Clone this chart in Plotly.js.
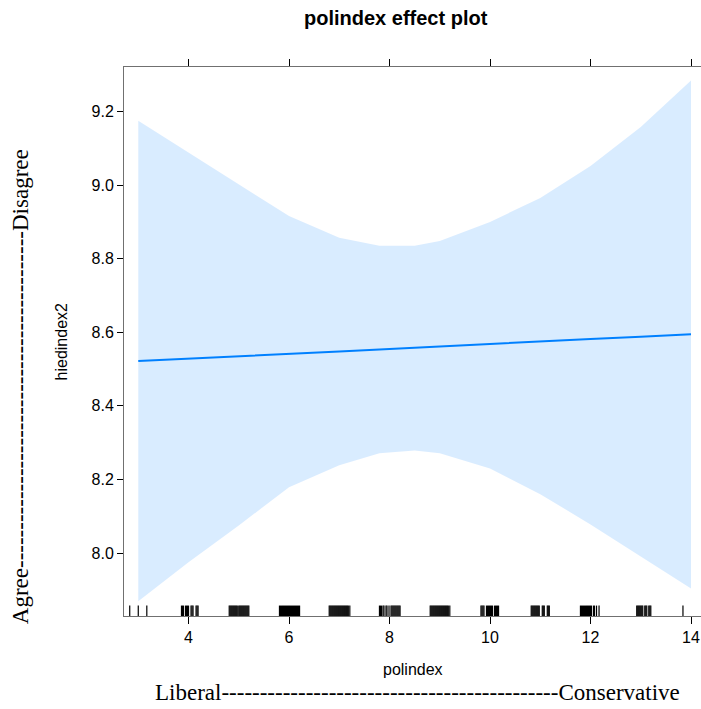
<!DOCTYPE html>
<html>
<head>
<meta charset="utf-8">
<script src="https://cdn.plot.ly/plotly-3.0.1.min.js"></script>
<style>html,body{margin:0;padding:0;background:#fff;}#chart{width:701px;height:709px;}</style>
</head>
<body>
<div id="chart"></div>
<script>
// ---- data ----
const effectX = [3, 4, 5, 6, 7, 7.8, 8.5, 9, 10, 11, 12, 13, 14];
const fitY    = [8.522, 8.529, 8.535, 8.542, 8.548, 8.553, 8.558, 8.561, 8.568, 8.575, 8.582, 8.588, 8.595];
const upperY  = [9.175, 9.088, 9.001, 8.916, 8.857, 8.835, 8.835, 8.848, 8.900, 8.965, 9.052, 9.158, 9.284];
const lowerY  = [7.869, 7.975, 8.075, 8.179, 8.239, 8.271, 8.279, 8.271, 8.230, 8.160, 8.078, 7.991, 7.904];

const rugValues = [
  2.83, 3.0, 3.17,
  3.86, 3.88, 3.90, 3.94, 3.96, 3.98, 4.00, 4.05, 4.07, 4.09, 4.15, 4.17, 4.19,
  4.81, 4.83, 4.85, 4.87, 4.89, 4.91, 4.93, 4.95, 4.97, 5.00, 5.02, 5.04, 5.06, 5.08, 5.10, 5.12, 5.14, 5.16, 5.18, 5.20,
  5.81, 5.83, 5.85, 5.87, 5.89, 5.91, 5.93, 5.95, 5.97, 5.99, 6.01, 6.03, 6.05, 6.07, 6.09, 6.11, 6.13, 6.15, 6.17, 6.19, 6.21,
  6.80, 6.82, 6.84, 6.86, 6.88, 6.90, 6.92, 6.94, 6.96, 6.98, 7.00, 7.02, 7.04, 7.06, 7.08, 7.10, 7.12, 7.14, 7.16, 7.18, 7.21,
  7.80, 7.82, 7.84, 7.87, 7.89, 7.93, 7.95, 7.99, 8.03, 8.05, 8.07, 8.09, 8.11, 8.13, 8.15, 8.17, 8.19, 8.21,
  8.81, 8.83, 8.85, 8.87, 8.89, 8.91, 8.93, 8.95, 8.97, 8.99, 9.01, 9.03, 9.05, 9.07, 9.09, 9.11, 9.13, 9.15, 9.17, 9.20,
  9.82, 9.84, 9.86, 9.88, 9.93, 9.95, 9.97, 9.99, 10.01, 10.03, 10.05, 10.09, 10.11, 10.13, 10.15, 10.17,
  10.82, 10.84, 10.86, 10.88, 10.90, 10.92, 10.94, 10.96, 10.98, 11.04, 11.06, 11.08, 11.14, 11.16, 11.18,
  11.80, 11.82, 11.84, 11.86, 11.88, 11.90, 11.92, 11.94, 11.96, 11.98, 12.00, 12.02, 12.06, 12.08, 12.12, 12.17,
  12.92, 12.94, 12.96, 12.98, 13.00, 13.02, 13.04, 13.08, 13.10, 13.12, 13.16, 13.18, 13.20,
  13.84
];

const xTicks = [4, 6, 8, 10, 12, 14];
const yTicks = [8.0, 8.2, 8.4, 8.6, 8.8, 9.0, 9.2];

const titleText = 'polindex effect plot';
const xTitle = 'polindex';
const yTitle = 'hiedindex2';
const xSideLabel = 'Liberal' + '-'.repeat(44) + 'Conservative';
const ySideLabel = 'Agree' + '-'.repeat(44) + 'Disagree';

// ---- traces ----
const band = {
  x: effectX.concat(effectX.slice().reverse()),
  y: upperY.concat(lowerY.slice().reverse()),
  type: 'scatter', mode: 'lines', fill: 'toself',
  fillcolor: 'rgba(0,128,255,0.15)', line: {width: 0},
  hoverinfo: 'skip', showlegend: false
};
const fit = {
  x: effectX, y: fitY, type: 'scatter', mode: 'lines',
  line: {color: '#0080ff', width: 2}, showlegend: false
};
const rugX = [], rugY = [];
rugValues.forEach(v => { rugX.push(v, v, null); rugY.push(0, 0.019, null); });
const rug = {
  x: rugX, y: rugY, yaxis: 'y2', type: 'scatter', mode: 'lines',
  line: {color: '#000', width: 1.2}, showlegend: false, hoverinfo: 'skip'
};

const sans = 'Liberation Sans, Arial, sans-serif';
const serif = 'Liberation Serif, Times New Roman, serif';

const layout = {
  width: 701, height: 709,
  margin: {l: 124, r: 0, t: 67, b: 93, pad: 0},
  paper_bgcolor: '#fff', plot_bgcolor: '#fff',
  showlegend: false,
  xaxis: {
    range: [2.716, 14.199], tickvals: xTicks, ticktext: xTicks.map(String),
    ticks: 'outside', ticklen: 7, tickwidth: 1, tickcolor: '#000',
    showline: true, linecolor: '#707070', linewidth: 1, mirror: 'ticks',
    showgrid: false, zeroline: false,
    tickfont: {family: sans, size: 16, color: '#000'}
  },
  yaxis: {
    range: [7.829, 9.321], tickvals: yTicks, ticktext: yTicks.map(v => v.toFixed(1)),
    ticks: 'outside', ticklen: 6, tickwidth: 1, tickcolor: '#000',
    showline: true, linecolor: '#707070', linewidth: 1, mirror: false,
    showgrid: false, zeroline: false,
    tickfont: {family: sans, size: 16, color: '#000'}
  },
  yaxis2: {overlaying: 'y', range: [0, 1], visible: false, fixedrange: true},
  annotations: [
    {text: '<b>' + titleText + '</b>', xref: 'paper', yref: 'paper', x: 0.4714, y: 1.089,
     xanchor: 'center', yanchor: 'middle', showarrow: false,
     font: {family: sans, size: 20, color: '#000'}},
    {text: xTitle, xref: 'paper', yref: 'paper', x: 0.5009, y: -0.098,
     xanchor: 'center', yanchor: 'middle', showarrow: false,
     font: {family: sans, size: 16, color: '#000'}},
    {text: yTitle, xref: 'paper', yref: 'paper', x: -0.1075, y: 0.5,
     xanchor: 'center', yanchor: 'middle', showarrow: false, textangle: -90,
     font: {family: sans, size: 16, color: '#000'}},
    {text: xSideLabel, xref: 'paper', yref: 'paper', x: 0.508, y: -0.140,
     xanchor: 'center', yanchor: 'middle', showarrow: false,
     font: {family: serif, size: 23, color: '#000'}},
    {text: ySideLabel, xref: 'paper', yref: 'paper', x: -0.180, y: 0.417,
     xanchor: 'center', yanchor: 'middle', showarrow: false, textangle: -90,
     font: {family: serif, size: 23, color: '#000'}}
  ]
};

Plotly.newPlot('chart', [band, fit, rug], layout, {displayModeBar: false, staticPlot: true});
</script>
</body>
</html>
